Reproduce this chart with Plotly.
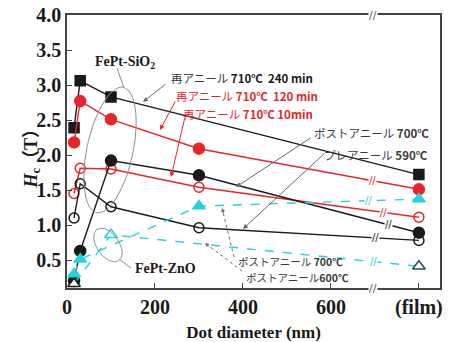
import numpy as np
import plotly.graph_objects as go

# ---------------- data ----------------
FILM = 800  # position used for the "(film)" category
x_ticks = [0, 200, 400, 600, FILM]
x_tick_text = ["0", "200", "400", "600", "(film)"]
y_ticks = [0.5, 1.0, 1.5, 2.0, 2.5, 3.0, 3.5, 4.0]

# FePt-SiO2
re240_x = [16, 30, 100, FILM]
re240_y = [2.39, 3.06, 2.83, 1.72]
re120_x = [16, 30, 100, 300, FILM]
re120_y = [2.18, 2.77, 2.51, 2.09, 1.51]
re10_x = [16, 30, 100, 300, FILM]
re10_y = [1.45, 1.81, 1.80, 1.54, 1.11]
post700_x = [16, 30, 100, 300, FILM]
post700_y = [0.20, 0.63, 1.92, 1.71, 0.89]
pre590_x = [16, 30, 100, 300, FILM]
pre590_y = [1.10, 1.59, 1.26, 0.96, 0.78]
# FePt-ZnO
zno700_x = [16, 30, 300, FILM]
zno700_y = [0.30, 0.51, 1.27, 1.37]
zno600_x = [16, 100, FILM]
zno600_y = [0.16, 0.86, 0.41]

# ---------------- layout geometry ----------------
W, H = 450, 342
L, R, T, B = 67, 10, 15, 54
XR = [0, 848]
YR = [0.1, 4.0]
pw, ph = W - L - R, H - T - B


def P(px, py):
    """pixel -> data coords (for decorations only)"""
    x = XR[0] + (px - L) / pw * (XR[1] - XR[0])
    y = YR[1] - (py - T) / ph * (YR[1] - YR[0])
    return x, y


RED = "#e8262a"
CYAN = "#22d3de"
BLK = "#1a1a1a"
GRAY = "#6a6a6a"

fig = go.Figure()


def add(x, y, color, symbol, dash="solid", msize=10, mline=None, fill=None):
    fig.add_trace(go.Scatter(
        x=x, y=y, mode="lines+markers",
        line=dict(color=color, width=1.4, dash=dash),
        marker=dict(symbol=symbol, size=msize,
                    color=fill if fill is not None else color,
                    line=dict(color=mline if mline is not None else color, width=1.5)),
        showlegend=False, hoverinfo="skip"))


add(re240_x, re240_y, BLK, "square", msize=10)
add(re120_x, re120_y, RED, "circle", msize=11)
add(re10_x, re10_y, RED, "circle-open", msize=10)
add(post700_x, post700_y, BLK, "circle", msize=11)
add(pre590_x, pre590_y, BLK, "circle-open", msize=10)
add(zno700_x, zno700_y, CYAN, "triangle-up", dash="dash", msize=11)
add(zno600_x, zno600_y, CYAN, "triangle-up", dash="dash", msize=11,
    fill="white", mline=[BLK, CYAN, "#1e4f55"])

shapes = []
annots = []


def ellipse_path(cx, cy, a, b, ang_deg):
    t = np.linspace(0, 2 * np.pi, 60)
    ang = np.deg2rad(ang_deg)
    ux, uy = np.sin(ang), -np.cos(ang)
    vx, vy = np.cos(ang), np.sin(ang)
    pts = []
    for tt in t:
        px = cx + a * np.cos(tt) * ux + b * np.sin(tt) * vx
        py = cy + a * np.cos(tt) * uy + b * np.sin(tt) * vy
        pts.append(P(px, py))
    return "M " + " L ".join(f"{x:.2f},{y:.2f}" for x, y in pts) + " Z"


shapes.append(dict(type="path", path=ellipse_path(110, 150, 64, 23, 12),
                   xref="x", yref="y", line=dict(color="#8c8c8c", width=1)))
shapes.append(dict(type="path", path=ellipse_path(108, 245, 19, 11, -35),
                   xref="x", yref="y", line=dict(color="#8c8c8c", width=1)))


def seg(p1, p2, color, width=1, dash="solid"):
    a, b = P(*p1), P(*p2)
    shapes.append(dict(type="line", xref="x", yref="y", x0=a[0], y0=a[1], x1=b[0], y1=b[1],
                       line=dict(color=color, width=width, dash=dash)))


seg((117, 68), (124, 88), "#8c8c8c")
seg((119, 259), (131, 268), "#8c8c8c")


def arrow(tail, head, color, width=1):
    h, t = P(*head), P(*tail)
    annots.append(dict(x=h[0], y=h[1], ax=t[0], ay=t[1], xref="x", yref="y",
                       axref="x", ayref="y", text="", showarrow=True,
                       arrowhead=2, arrowsize=1, arrowwidth=width, arrowcolor=color))


arrow((167, 83), (143, 102), GRAY)
arrow((176, 100), (160, 130), RED)
arrow((185, 117), (171, 177), RED)
arrow((312, 137), (236, 187), GRAY)
arrow((326, 152), (243, 229), GRAY)
# dotted arrows
seg((234, 257), (223, 212), GRAY, dash="dot")
arrow((224, 215), (222, 208), GRAY, 0.8)
seg((242, 271), (209, 246), GRAY, dash="dot")
arrow((211, 248), (205, 243), GRAY, 0.8)


def text(px, py, s, color=BLK, size=12, family="Noto Sans CJK JP", anchor="left"):
    x, y = P(px, py)
    annots.append(dict(x=x, y=y, xref="x", yref="y", text=s, showarrow=False,
                       xanchor=anchor, yanchor="middle", borderpad=0,
                       font=dict(family=family, size=size, color=color)))


JP = "#3a3a3a"
text(125, 62, "<b>FePt-SiO<sub>2</sub></b>", BLK, 14, "Liberation Serif", "center")
text(165, 268, "<b>FePt-ZnO</b>", BLK, 14, "Liberation Serif", "center")
text(170, 78, f"<span style='color:{JP}'>再アニール</span> <b>710℃  240 min</b>", BLK, 11.5)
text(175, 96, "再アニール <b>710℃  120 min</b>", RED, 11.5)
text(182, 114, "再アニール <b>710℃ 10min</b>", RED, 11.5)
text(313, 133, "ポストアニール <b>700℃</b>", JP, 11.5)
text(323, 155, "プレアニール <b>590℃</b>", JP, 11.5)
text(237, 261, "ポストアニール <b>700℃</b>", JP, 10.5)
text(245, 277, "ポストアニール<b>600℃</b>", JP, 10.5)

# axis break marks
for py in (T, T + ph):
    x, y = P(373, py)
    annots.append(dict(x=x, y=y, xref="x", yref="y", text="//", showarrow=False,
                       font=dict(size=11, color="#555555", family="DejaVu Sans"),
                       bgcolor="white", borderpad=0))

# break marks on lines
brk_x = (P(372, 0)[0], P(368, 0)[0], P(383, 0)[0], P(388, 0)[0], P(375, 0)[0], P(373, 0)[0])
brk_series = [(re120_x, re120_y, RED), (zno700_x, zno700_y, CYAN), (re10_x, re10_y, RED),
              (post700_x, post700_y, BLK), (pre590_x, pre590_y, BLK), (zno600_x, zno600_y, CYAN)]
for bx, (sx, sy, c) in zip(brk_x, brk_series):
    by = float(np.interp(bx, sx, sy))
    annots.append(dict(x=bx, y=by, xref="x", yref="y", text="//", showarrow=False,
                       font=dict(size=10, color=c, family="DejaVu Sans"),
                       bgcolor="rgba(255,255,255,0.9)", borderpad=0))

# y-axis title
annots.append(dict(x=(18 - L) / pw, y=1 - (154 - T) / ph, xref="paper", yref="paper",
                   text="<b><i>H</i><sub>c</sub>（T）</b>", textangle=-90, showarrow=False,
                   font=dict(family="Liberation Serif, Noto Sans CJK JP", size=18, color=BLK)))

fig.update_layout(
    width=W, height=H, margin=dict(l=L, r=R, t=T, b=B),
    paper_bgcolor="white", plot_bgcolor="white",
    shapes=shapes, annotations=annots,
    xaxis=dict(range=XR, tickvals=x_ticks, ticktext=[f"<b>{t}</b>" for t in x_tick_text],
               ticks="inside", ticklen=5, automargin=False,
               tickcolor="#444", showgrid=False, zeroline=False, showline=True,
               linecolor="#444", linewidth=1.5, mirror=True,
               tickfont=dict(family="Liberation Serif", size=20, color=BLK),
               title=dict(text="<b>Dot diameter (nm)</b>", standoff=14,
                          font=dict(family="Liberation Serif", size=17, color=BLK))),
    yaxis=dict(range=YR, tickvals=y_ticks, ticktext=[f"<b>{v:.1f}</b>" for v in y_ticks],
               ticks="inside", ticklen=5, tickcolor="#444", showgrid=False, zeroline=False,
               showline=True, linecolor="#444", linewidth=1.5, mirror=True, automargin=False,
               tickfont=dict(family="Liberation Serif", size=20, color=BLK)),
)

fig.write_html("out.html")
